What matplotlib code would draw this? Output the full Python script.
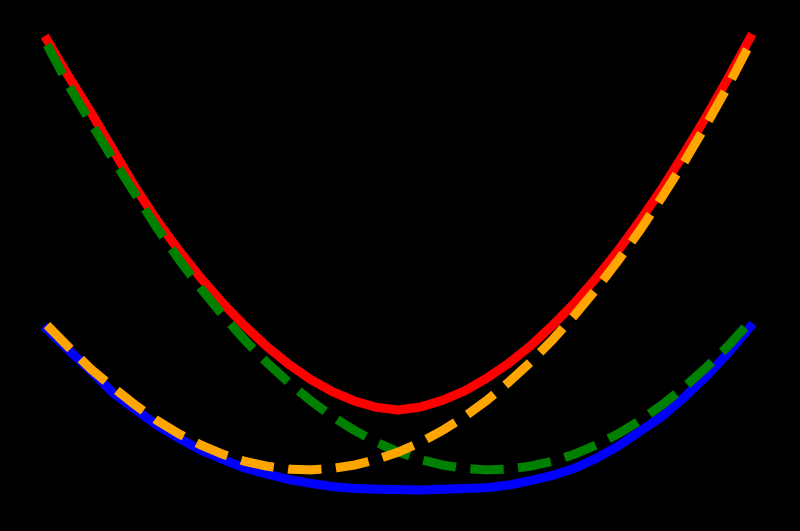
import matplotlib
matplotlib.use("Agg")
import matplotlib.pyplot as plt

# x positions (shared by all four curves)
x = [-1.0, -0.9375, -0.875, -0.8125, -0.75, -0.6875, -0.625, -0.5625,
     -0.5, -0.4375, -0.375, -0.3125, -0.25, -0.1875, -0.125, -0.0625,
     0.0, 0.0625, 0.125, 0.1875, 0.25, 0.3125, 0.375, 0.4375,
     0.5, 0.5625, 0.625, 0.6875, 0.75, 0.8125, 0.875, 0.9375, 1.0]

red_vals = [0.995, 0.895, 0.800, 0.700, 0.600, 0.510, 0.429, 0.355,
            0.287, 0.226, 0.171, 0.123, 0.082, 0.049, 0.024, 0.007,
            0.0, 0.008, 0.026, 0.051, 0.085, 0.125, 0.172, 0.227,
            0.287, 0.355, 0.429, 0.510, 0.596, 0.690, 0.788, 0.892, 1.0]

blue_vals = [0.217, 0.160, 0.105, 0.046, 0.002, -0.041, -0.076, -0.108,
             -0.133, -0.156, -0.172, -0.187, -0.197, -0.206, -0.211, -0.213,
             -0.214, -0.215, -0.213, -0.211, -0.209, -0.202, -0.190, -0.176,
             -0.157, -0.130, -0.097, -0.057, -0.017, 0.034, 0.090, 0.153, 0.223]

green_vals = [0.982, 0.871, 0.772, 0.675, 0.582, 0.490, 0.405, 0.327,
              0.255, 0.188, 0.128, 0.074, 0.025, -0.018, -0.055, -0.087,
              -0.113, -0.133, -0.148, -0.157, -0.161, -0.159, -0.151, -0.138,
              -0.119, -0.094, -0.064, -0.028, 0.014, 0.061, 0.114, 0.172, 0.237]

orange_vals = [0.228, 0.168, 0.110, 0.061, 0.014, -0.028, -0.064, -0.094,
               -0.119, -0.138, -0.151, -0.159, -0.161, -0.157, -0.148, -0.133,
               -0.113, -0.087, -0.055, -0.018, 0.025, 0.074, 0.128, 0.188,
               0.254, 0.325, 0.402, 0.484, 0.573, 0.666, 0.766, 0.871, 0.985]

fig = plt.figure(figsize=(8.0, 5.31), dpi=100, facecolor="black")
ax = fig.add_axes([0, 0, 1, 1])
ax.set_facecolor("black")

lw = 6.5
ax.plot(x, red_vals, color="red", linewidth=lw, linestyle="-", zorder=2)
ax.plot(x, blue_vals, color="blue", linewidth=lw, linestyle="-", zorder=3)
ax.plot(x, green_vals, color="green", linewidth=lw, linestyle="--", zorder=4)
ax.plot(x, orange_vals, color="orange", linewidth=lw, linestyle="--", zorder=5)

ax.set_xlim(-1.1337, 1.1422)
ax.set_ylim(-0.3253, 1.1022)
ax.axis("off")

fig.savefig("out.png", dpi=100, facecolor="black")
